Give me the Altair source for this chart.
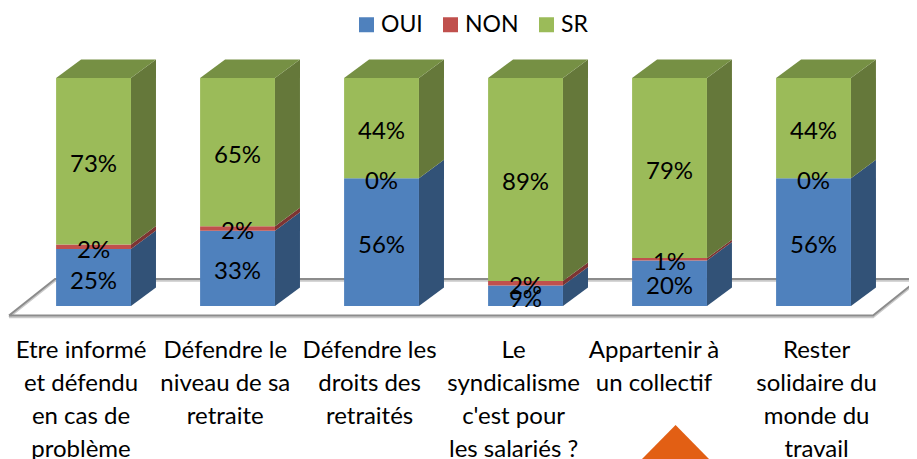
import altair as alt
import pandas as pd

FONT = "Lato"
categories = ["Etre informé\net défendu\nen cas de\nproblème",
              "Défendre le\nniveau de sa\nretraite",
              "Défendre les\ndroits des\nretraités",
              "Le\nsyndicalisme\nc'est pour\nles salariés ?",
              "Appartenir à\nun collectif",
              "Rester\nsolidaire du\nmonde du\ntravail"]
label_x = [-0.087, 0.915, 1.917, 2.917, 3.892, 5.021]
oui = [25, 33, 56, 9, 20, 56]
non = [2, 2, 0, 2, 1, 0]
sr = [73, 65, 44, 89, 79, 44]
series = ["OUI", "NON", "SR"]
front = ["#4f81bd", "#c0504d", "#9bbb59"]
side = ["#325277", "#7d3432", "#65783a"]
top_colour = "#769044"

half = 0.26
dx, dy = 0.1736, 8.1
X_DOM = [-0.594, 5.663]
Y_DOM = [-67.1, 130.7]

floor_x = [-0.587, -0.267, 5.73, 5.413, -0.587]
floor_y = [-4.17, 11.84, 11.84, -4.17, -4.17]
tri_x = [3.809, 4.042, 4.274]
tri_y = [-67.1, -52.2, -67.1]

seg, sides, tops, labels = [], [], [], []
for i in range(6):
    lo = 0
    for name, vals, sc in zip(series, (oui, non, sr), side):
        v = vals[i]
        hi = lo + v
        seg.append(dict(x=i - half, x2=i + half, lo=lo, hi=hi, s=name))
        key = f"{i}-{name}"
        sides.append(dict(k=key, x=i + half, y=lo, y2=hi, c=sc))
        sides.append(dict(k=key, x=i + half + dx, y=lo + dy, y2=hi + dy, c=sc))
        labels.append(dict(x=i, y=(lo + hi) / 2, t=f"{v}%"))
        lo = hi
    tops += [dict(k=i, x=i - half, y=100, y2=100),
             dict(k=i, x=i - half + dx, y=100 + dy, y2=100),
             dict(k=i, x=i + half, y=100 + dy, y2=100),
             dict(k=i, x=i + half + dx, y=100 + dy, y2=100 + dy)]

xs = alt.Scale(domain=X_DOM, nice=False, zero=False)
ys = alt.Scale(domain=Y_DOM, nice=False, zero=False)
X = lambda f="x": alt.X(f"{f}:Q", scale=xs, axis=None)
Y = lambda f="y": alt.Y(f"{f}:Q", scale=ys, axis=None)

floor_df = pd.DataFrame(dict(x=floor_x, y=floor_y, o=range(5)))
floor_df2 = floor_df.assign(y=floor_df.y - 0.8)
shadow = alt.Chart(floor_df2).mark_line(color="#c9c9c9", strokeWidth=2).encode(
    x=X(), y=Y(), order="o:Q")
floor = alt.Chart(floor_df).mark_line(color="#8c8c8c", strokeWidth=2).encode(
    x=X(), y=Y(), order="o:Q")

side_layer = alt.Chart(pd.DataFrame(sides)).mark_area(orient="vertical").encode(
    x=X(), y=Y(), y2="y2:Q", detail="k:N", color=alt.Color("c:N", scale=None, legend=None))
top_layer = alt.Chart(pd.DataFrame(tops)).mark_area(orient="vertical", color=top_colour).encode(
    x=X(), y=Y(), y2="y2:Q", detail="k:N")
bars = alt.Chart(pd.DataFrame(seg)).mark_bar().encode(
    x=X(), x2="x2:Q", y=Y("lo"), y2="hi:Q",
    color=alt.Color("s:N", scale=alt.Scale(domain=series, range=front),
                    legend=alt.Legend(title=None, orient="none", legendX=347, legendY=5,
                                      direction="horizontal", symbolType="square",
                                      symbolSize=225, symbolStrokeWidth=0, labelFont=FONT,
                                      labelFontSize=23, labelColor="#000000",
                                      columnPadding=16, labelOffset=3)))
values = alt.Chart(pd.DataFrame(labels)).mark_text(
    font=FONT, fontSize=24, color="#000000", baseline="middle", dy=4).encode(
    x=X(), y=Y(), text="t:N")
cats = alt.Chart(pd.DataFrame(dict(x=label_x, y=[-14.4] * 6, t=categories))).mark_text(
    font=FONT, fontSize=24, color="#000000", baseline="top", lineBreak="\n", lineHeight=33).encode(
    x=X(), y=Y(), text="t:N")
tri = alt.Chart(pd.DataFrame(dict(x=tri_x, y=tri_y, y2=[-67.1] * 3))).mark_area(
    orient="vertical", color="#e25f14").encode(x=X(), y=Y(), y2="y2:Q")

chart = alt.layer(shadow, floor, side_layer, top_layer, bars, values, cats, tri).properties(
    width=901, height=451, padding=0, autosize=alt.AutoSizeParams(type="none")
).configure_view(stroke=None).resolve_scale(color="independent")

chart.save("out.html", embed_options={"renderer": "svg", "actions": False})
